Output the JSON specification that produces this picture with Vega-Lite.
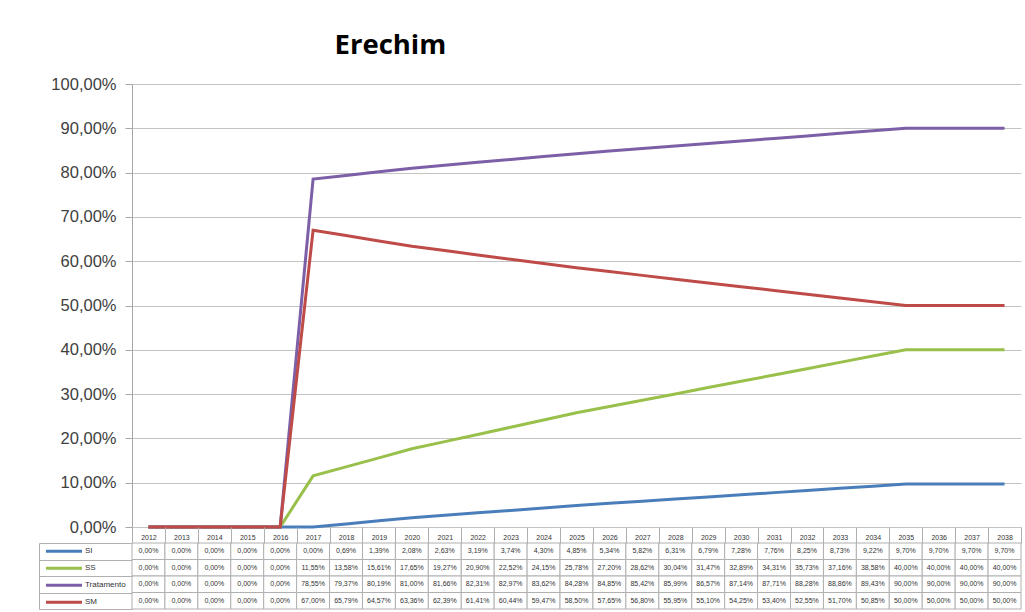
{
  "$schema": "https://vega.github.io/schema/vega-lite/v6.json",
  "padding": {"left": 38, "top": 31, "right": 5, "bottom": 3},
  "background": "white",
  "config": {
    "locale": {"number": {"decimal": ",", "thousands": ".", "grouping": [3], "currency": ["R$", ""]}},
    "view": {"stroke": null},
    "font": "Liberation Sans"
  },
  "bounds": "flush",
  "spacing": 16,
  "title": {"text": "Erechim", "font": "Open Sans", "fontSize": 27.5, "fontWeight": "bold", "color": "#000000", "anchor": "start", "dx": 296, "offset": 17},
  "data": {"values": [
    {"year": "2012", "SI": 0, "SS": 0, "Tratamento": 0, "SM": 0},
    {"year": "2013", "SI": 0, "SS": 0, "Tratamento": 0, "SM": 0},
    {"year": "2014", "SI": 0, "SS": 0, "Tratamento": 0, "SM": 0},
    {"year": "2015", "SI": 0, "SS": 0, "Tratamento": 0, "SM": 0},
    {"year": "2016", "SI": 0, "SS": 0, "Tratamento": 0, "SM": 0},
    {"year": "2017", "SI": 0, "SS": 0.1155, "Tratamento": 0.7855, "SM": 0.67},
    {"year": "2018", "SI": 0.0069, "SS": 0.1358, "Tratamento": 0.7937, "SM": 0.6579},
    {"year": "2019", "SI": 0.0139, "SS": 0.1561, "Tratamento": 0.8019, "SM": 0.6457},
    {"year": "2020", "SI": 0.0208, "SS": 0.1765, "Tratamento": 0.81, "SM": 0.6336},
    {"year": "2021", "SI": 0.0263, "SS": 0.1927, "Tratamento": 0.8166, "SM": 0.6239},
    {"year": "2022", "SI": 0.0319, "SS": 0.209, "Tratamento": 0.8231, "SM": 0.6141},
    {"year": "2023", "SI": 0.0374, "SS": 0.2252, "Tratamento": 0.8297, "SM": 0.6044},
    {"year": "2024", "SI": 0.043, "SS": 0.2415, "Tratamento": 0.8362, "SM": 0.5947},
    {"year": "2025", "SI": 0.0485, "SS": 0.2578, "Tratamento": 0.8428, "SM": 0.585},
    {"year": "2026", "SI": 0.0534, "SS": 0.272, "Tratamento": 0.8485, "SM": 0.5765},
    {"year": "2027", "SI": 0.0582, "SS": 0.2862, "Tratamento": 0.8542, "SM": 0.568},
    {"year": "2028", "SI": 0.0631, "SS": 0.3004, "Tratamento": 0.8599, "SM": 0.5595},
    {"year": "2029", "SI": 0.0679, "SS": 0.3147, "Tratamento": 0.8657, "SM": 0.551},
    {"year": "2030", "SI": 0.0728, "SS": 0.3289, "Tratamento": 0.8714, "SM": 0.5425},
    {"year": "2031", "SI": 0.0776, "SS": 0.3431, "Tratamento": 0.8771, "SM": 0.534},
    {"year": "2032", "SI": 0.0825, "SS": 0.3573, "Tratamento": 0.8828, "SM": 0.5255},
    {"year": "2033", "SI": 0.0873, "SS": 0.3716, "Tratamento": 0.8886, "SM": 0.517},
    {"year": "2034", "SI": 0.0922, "SS": 0.3858, "Tratamento": 0.8943, "SM": 0.5085},
    {"year": "2035", "SI": 0.097, "SS": 0.4, "Tratamento": 0.9, "SM": 0.5},
    {"year": "2036", "SI": 0.097, "SS": 0.4, "Tratamento": 0.9, "SM": 0.5},
    {"year": "2037", "SI": 0.097, "SS": 0.4, "Tratamento": 0.9, "SM": 0.5},
    {"year": "2038", "SI": 0.097, "SS": 0.4, "Tratamento": 0.9, "SM": 0.5}
  ]},
  "transform": [{"fold": ["SI", "SS", "Tratamento", "SM"], "as": ["serie", "valor"]}],
  "vconcat": [
    {
      "width": 889,
      "height": 443,
      "mark": {"type": "line", "strokeWidth": 3},
      "encoding": {
        "x": {"field": "year", "type": "ordinal", "scale": {"paddingInner": 0, "paddingOuter": 0}, "axis": null},
        "y": {"field": "valor", "type": "quantitative", "scale": {"domain": [0, 1]},
          "axis": {"values": [0, 0.1, 0.2, 0.3, 0.4, 0.5, 0.6, 0.7, 0.8, 0.9, 1], "format": ".2%", "title": null, "grid": true, "gridColor": "#c4c4c4", "domainColor": "#a6a6a6", "tickColor": "#a6a6a6", "tickSize": 7, "labelFontSize": 16.5, "labelColor": "#404040", "labelPadding": 9}},
        "color": {"field": "serie", "type": "nominal", "sort": ["SI", "SS", "Tratamento", "SM"],
          "scale": {"domain": ["SI", "SS", "Tratamento", "SM"], "range": ["#4a7ebb", "#98c04a", "#7d5fa8", "#be4b48"]},
          "legend": {"orient": "none", "legendX": -88, "legendY": 459, "title": null, "symbolType": "stroke", "symbolSize": 1300, "symbolStrokeWidth": 3, "labelFontSize": 8, "labelColor": "#333333", "clipHeight": 16.5, "rowPadding": 0, "padding": 0, "labelOffset": 1}}
      }
    },
    {
      "width": 889,
      "height": 66,
      "encoding": {
        "x": {"field": "year", "type": "ordinal", "scale": {"paddingInner": 0, "paddingOuter": 0},
          "axis": {"orient": "top", "title": null, "tickBand": "extent", "tickSize": 16, "labelPadding": -13, "labelAngle": 0, "labelFontSize": 7, "labelColor": "#333333", "domain": false, "tickColor": "#b0b0b0"}},
        "y": {"field": "serie", "type": "nominal", "sort": ["SI", "SS", "Tratamento", "SM"], "scale": {"paddingInner": 0, "paddingOuter": 0},
          "axis": {"title": null, "labels": false, "offset": 93, "tickBand": "extent", "tickSize": -93, "domainColor": "#b0b0b0", "tickColor": "#b0b0b0"}}
      },
      "layer": [
        {"mark": {"type": "rect", "fill": "white", "stroke": "#b0b0b0", "strokeWidth": 1}},
        {"mark": {"type": "text", "fontSize": 7, "color": "#333333"}, "encoding": {"text": {"field": "valor", "type": "quantitative", "format": ".2%"}}}
      ]
    }
  ]
}
